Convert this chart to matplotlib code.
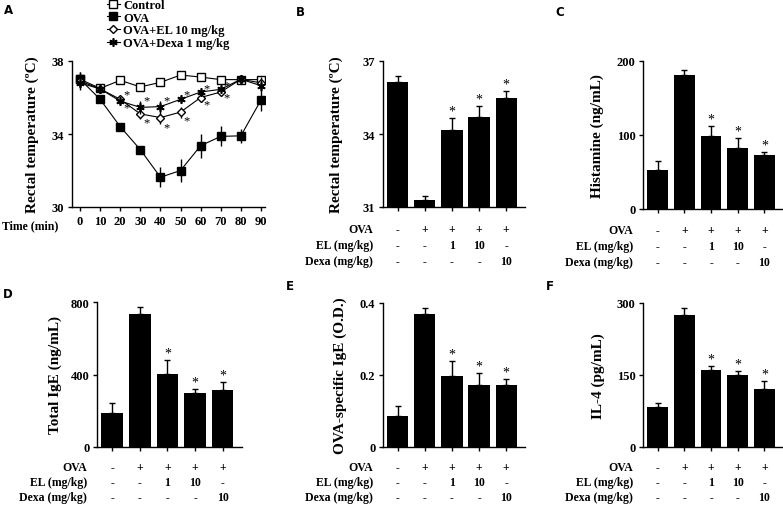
import matplotlib
matplotlib.use('Agg')
import matplotlib.pyplot as plt
from matplotlib.lines import Line2D

plt.rcParams['font.family'] = ['Liberation Serif', 'DejaVu Serif']
plt.rcParams['font.weight'] = 'bold'
plt.rcParams['axes.labelweight'] = 'bold'
plt.rcParams['axes.linewidth'] = 1.0

# panel A - rectal temperature over time
time_min = [0, 10, 20, 30, 40, 50, 60, 70, 80, 90]
ctrl_temp = [37.0, 36.5, 36.94, 36.58, 36.83, 37.23, 37.12, 36.98, 36.98, 36.98]
ctrl_err = [0.4, 0.15, 0.15, 0.15, 0.15, 0.15, 0.15, 0.15, 0.2, 0.2]
ova_temp = [37.0, 35.9, 34.4, 33.14, 31.63, 32.0, 33.36, 33.87, 33.9, 35.86]
ova_err = [0.4, 0.15, 0.2, 0.2, 0.55, 0.65, 0.65, 0.55, 0.37, 0.62]
el_temp = [36.9, 36.47, 35.9, 35.1, 34.9, 35.2, 36.0, 36.3, 37.0, 36.8]
el_err = [0.4, 0.15, 0.2, 0.3, 0.37, 0.3, 0.23, 0.15, 0.2, 0.3]
dexa_temp = [36.8, 36.47, 35.8, 35.46, 35.5, 35.9, 36.3, 36.45, 37.0, 36.65]
dexa_err = [0.4, 0.15, 0.2, 0.36, 0.3, 0.2, 0.15, 0.15, 0.2, 0.3]
star_times = [20, 30, 40, 50, 60, 70]

# bar panels
ova_row = ['-', '+', '+', '+', '+']
el_row = ['-', '-', '1', '10', '-']
dexa_row = ['-', '-', '-', '-', '10']
sig = [False, False, True, True, True]

temp_b = [36.15, 31.27, 34.16, 34.71, 35.48]
temp_b_err = [0.25, 0.17, 0.48, 0.43, 0.3]
hist_c = [53, 181, 99, 82, 73]
hist_c_err = [12, 7, 12.6, 13.5, 3.6]
ige_d = [189, 734, 403, 298, 316]
ige_d_err = [56, 37, 79, 24, 43]
ovaige_e = [0.085, 0.369, 0.196, 0.171, 0.171]
ovaige_e_err = [0.028, 0.018, 0.043, 0.035, 0.017]
il4_f = [83, 276, 161, 149, 120]
il4_f_err = [9, 13, 7, 10, 18]

W, H = 783, 506
fig = plt.figure(figsize=(W / 100, H / 100), dpi=100)


def box(l, r, t, b):
    return [l / W, 1 - b / H, (r - l) / W, (b - t) / H]


def style(ax):
    for s in ['top', 'right']:
        ax.spines[s].set_visible(False)
    ax.tick_params(direction='out', length=3, width=1, labelsize=9, pad=2.5)
    for lbl in ax.get_xticklabels() + ax.get_yticklabels():
        lbl.set_fontweight('bold')


def bar_panel(ax, vals, errs, ylim, yticks, yticklabels, ylabel, labx, rows_px):
    x = range(len(vals))
    ax.bar(x, vals, width=0.78, color='black', zorder=2)
    ax.errorbar(x, vals, yerr=[[0] * len(errs), errs], fmt='none', ecolor='black',
                elinewidth=1, capsize=2.2, capthick=1, zorder=1)
    ax.set_xlim(-0.55, 4.7)
    ax.set_ylim(*ylim)
    ax.set_yticks(yticks)
    ax.set_yticklabels(yticklabels, fontweight='bold')
    ax.set_xticks(list(x))
    ax.set_xticklabels([])
    style(ax)
    ax.set_ylabel(ylabel, fontsize=11, fontweight='bold')
    ax.yaxis.set_label_coords(labx, 0.5)
    ax.yaxis.label.set_va('center')
    for i in x:
        if sig[i]:
            ax.annotate('*', xy=(i, vals[i] + errs[i]), xytext=(0, 2.5),
                        textcoords='offset points', ha='center', va='baseline',
                        fontsize=10, fontweight='normal')
    for row, name, off in zip([ova_row, el_row, dexa_row],
                              ['OVA', 'EL (mg/kg)', 'Dexa (mg/kg)'], rows_px):
        ax.annotate(name, xy=(0, 0), xycoords='axes fraction', xytext=(-7, -off * 0.72),
                    textcoords='offset points', ha='right', va='baseline', fontsize=8.5,
                    fontweight='bold')
        for i, t in enumerate(row):
            ax.annotate(t, xy=(i, 0), xycoords=('data', 'axes fraction'),
                        xytext=(0, -off * 0.72), textcoords='offset points',
                        ha='center', va='baseline', fontsize=8.5, fontweight='bold')


# panel A
axA = fig.add_axes(box(72, 265, 62, 208))
axA.errorbar(time_min, ctrl_temp, yerr=ctrl_err, color='black', lw=0.8, marker='s',
             ms=5.5, mfc='white', mec='black', mew=1, elinewidth=1, capsize=0, zorder=3)
axA.errorbar(time_min, ova_temp, yerr=ova_err, color='black', lw=0.8, marker='s',
             ms=5.5, mfc='black', mec='black', elinewidth=1, capsize=0, zorder=4)
axA.errorbar(time_min, el_temp, yerr=el_err, color='black', lw=0.8, marker='D',
             ms=4.5, mfc='white', mec='black', mew=1, elinewidth=1, capsize=0, zorder=5)
axA.errorbar(time_min, dexa_temp, yerr=dexa_err, color='black', lw=0.8, marker=(6, 2, 0),
             ms=6, mec='black', mew=1.2, elinewidth=1, capsize=0, zorder=6)
for t in star_times:
    i = time_min.index(t)
    upper = max(dexa_temp[i] + dexa_err[i], el_temp[i] + el_err[i])
    lower = min(dexa_temp[i] - dexa_err[i], el_temp[i] - el_err[i])
    axA.text(t + 3, upper + 0.05, '*', ha='center', va='center',
             fontsize=9, fontweight='normal')
    axA.text(t + 3, lower - 0.15, '*', ha='center', va='center',
             fontsize=9, fontweight='normal')
axA.set_xlim(-4, 92)
axA.set_ylim(30, 38)
axA.set_xticks(time_min)
axA.set_yticks([30, 34, 38])
style(axA)
axA.set_ylabel('Rectal temperature (ºC)', fontsize=11, fontweight='bold')
axA.yaxis.set_label_coords(-0.205, 0.5)
axA.yaxis.label.set_va('center')
axA.annotate('Time (min)', xy=(0, 0), xycoords='axes fraction', xytext=(-10, -13.5),
             textcoords='offset points', ha='right', va='center', fontsize=8.5,
             fontweight='bold')
handles = [
    Line2D([], [], color='black', lw=0.8, marker='s', ms=5.5, mfc='white', mew=1),
    Line2D([], [], color='black', lw=0.8, marker='s', ms=5.5, mfc='black'),
    Line2D([], [], color='black', lw=0.8, marker='D', ms=4.5, mfc='white', mew=1),
    Line2D([], [], color='black', lw=0.8, marker=(6, 2, 0), ms=6, mew=1.2),
]
axA.legend(handles, ['Control', 'OVA', 'OVA+EL 10 mg/kg', 'OVA+Dexa 1 mg/kg'],
           loc='upper left', bbox_to_anchor=(107 / W, 1.0), bbox_transform=fig.transFigure,
           frameon=False, prop={'size': 9, 'weight': 'bold'}, handlelength=1.0,
           handletextpad=0.3, labelspacing=0.05, borderpad=0, borderaxespad=0)

# panels B-F
axB = fig.add_axes(box(383, 525, 62, 208))
bar_panel(axB, temp_b, temp_b_err, (31, 37), [31, 34, 37], ['31', '34', '37'],
          'Rectal temperature (ºC)', -0.33, [25, 41, 57])
axC = fig.add_axes(box(643, 783, 62, 210))
bar_panel(axC, hist_c, hist_c_err, (0, 200), [0, 100, 200], ['0', '100', '200'],
          'Histamine (ng/mL)', -0.33, [24, 40, 56])
axD = fig.add_axes(box(97, 242, 303, 448))
bar_panel(axD, ige_d, ige_d_err, (0, 800), [0, 400, 800], ['0', '400', '800'],
          'Total IgE (ng/mL)', -0.29, [23, 38, 53])
axE = fig.add_axes(box(383, 525, 304, 448))
bar_panel(axE, ovaige_e, ovaige_e_err, (0, 0.4), [0, 0.2, 0.4], ['0', '0.2', '0.4'],
          'OVA-specific IgE (O.D.)', -0.30, [23, 38, 53])
axF = fig.add_axes(box(643, 783, 304, 448))
bar_panel(axF, il4_f, il4_f_err, (0, 300), [0, 150, 300], ['0', '150', '300'],
          'IL-4 (pg/mL)', -0.32, [23, 38, 53])

# panel letters
for lab, px, py in [('A', 8, 10), ('B', 300, 13), ('C', 560, 13),
                    ('D', 8, 295), ('E', 290, 287), ('F', 550, 287)]:
    fig.text(px / W, 1 - py / H, lab, family='DejaVu Sans', fontweight='bold',
             fontsize=8.5, ha='center', va='center')

fig.savefig('out.png', dpi=100)
